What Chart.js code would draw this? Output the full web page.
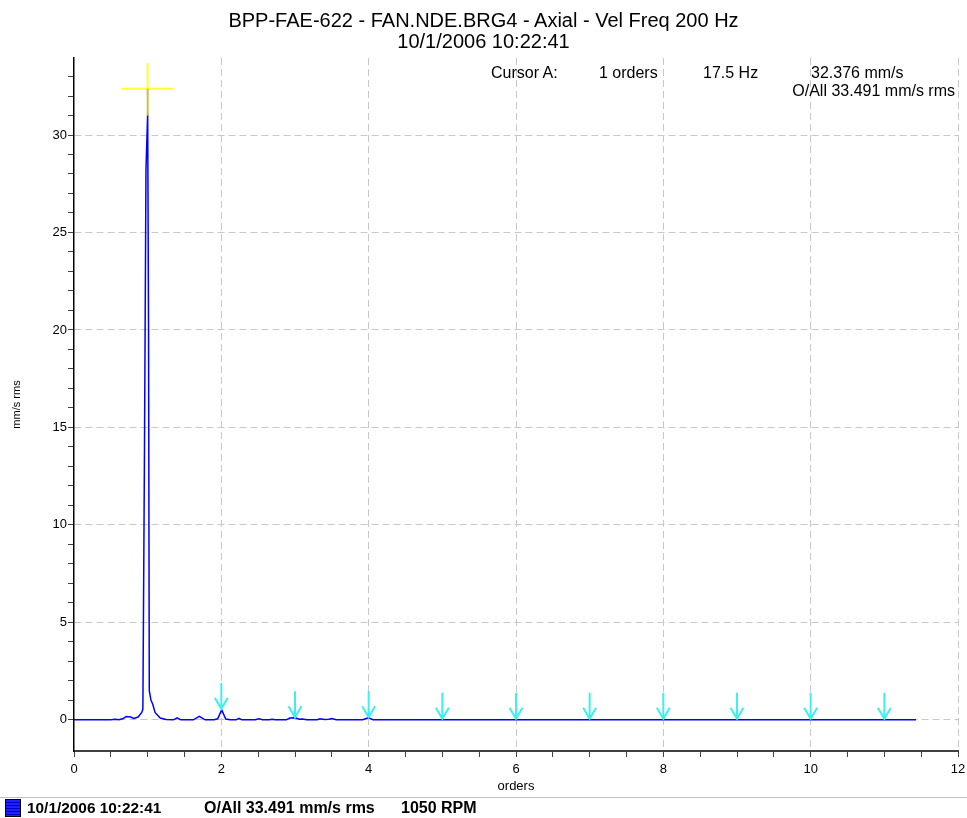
<!DOCTYPE html>
<html>
<head>
<meta charset="utf-8">
<script src="https://cdn.jsdelivr.net/npm/chart.js@4.4.1/dist/chart.umd.min.js"></script>
<style>
  body { margin: 0; background: #fff; font-family: "Liberation Sans", Arial, sans-serif; }
  #wrap { position: relative; width: 967px; height: 818px; overflow: hidden; }
  #chartBox { position: absolute; left: 0; top: 0; width: 967px; height: 818px; }
  .txt { position: absolute; white-space: nowrap; color: #000; line-height: 1; }
  .title { left: 0; width: 967px; text-align: center; font-size: 20px; }
  .cur { font-size: 16px; }
  .leg { font-size: 16px; font-weight: bold; top: 800px; }
  #sep { position: absolute; left: 0; top: 797px; width: 967px; height: 1px; background: #c0c0c0; }
  #swatch { position: absolute; left: 5px; top: 799px; width: 14px; height: 16px; border: 1px solid #000;
    background: repeating-linear-gradient(#2020ff 0 2px, #0000c0 2px 3px); }
</style>
</head>
<body>
<div id="wrap">
  <div id="chartBox"><canvas id="spectrumChart"></canvas></div>
  <div class="txt title" style="top:10px">BPP-FAE-622 - FAN.NDE.BRG4 - Axial - Vel Freq 200 Hz</div>
  <div class="txt title" style="top:31px">10/1/2006 10:22:41</div>
  <div class="txt cur" style="left:491px; top:65px">Cursor A:</div>
  <div class="txt cur" style="left:599px; top:65px">1 orders</div>
  <div class="txt cur" style="left:703px; top:65px">17.5 Hz</div>
  <div class="txt cur" style="left:811px; top:65px">32.376 mm/s</div>
  <div class="txt cur" style="right:12px; top:83px">O/All 33.491 mm/s rms</div>
  <div id="sep"></div>
  <div id="swatch"></div>
  <div class="txt leg" style="left:27px; font-size:15.4px">10/1/2006 10:22:41</div>
  <div class="txt leg" style="left:204px">O/All 33.491 mm/s rms</div>
  <div class="txt leg" style="left:401px">1050 RPM</div>
</div>
<script>
// spectrum points (orders, mm/s rms)
const orders = [0, 0.50, 0.56, 0.61, 0.66, 0.71, 0.77, 0.81, 0.87, 0.92, 0.935, 0.957, 0.977, 1.0, 1.012, 1.022,
  1.045, 1.068, 1.10, 1.17, 1.25, 1.35, 1.40, 1.45, 1.62, 1.70, 1.78, 1.90, 1.95, 2.005, 2.06, 2.12,
  2.20, 2.24, 2.28, 2.46, 2.51, 2.56, 2.65, 2.69, 2.73, 2.88, 2.93, 3.0, 3.06, 3.1, 3.16,
  3.30, 3.34, 3.40, 3.46, 3.50, 3.56, 3.92, 3.995, 4.06, 4.3, 11.43];
const amplitude = [0, 0, 0.03, 0, 0.05, 0.17, 0.14, 0.07, 0.14, 0.38, 0.55, 14.0, 28.2, 31.07, 20.0, 1.5,
  1.0, 0.81, 0.38, 0.09, 0.02, 0, 0.1, 0, 0, 0.18, 0, 0, 0.05, 0.51, 0.04, 0,
  0, 0.07, 0, 0, 0.05, 0, 0, 0.03, 0, 0, 0.09, 0.1, 0.03, 0.04, 0,
  0, 0.05, 0.02, 0.03, 0.07, 0, 0, 0.1, 0, 0, 0];

// harmonic markers (cyan arrows) and cursor A
const harmonicOrders = [2, 3, 4, 5, 6, 7, 8, 9, 10, 11];
const harmonicAmps = [0.51, 0.08, 0.08, 0, 0, 0, 0, 0, 0, 0];
const cursorOrder = 1;
const cursorAmp = 32.376;

const xMajor = [0, 2, 4, 6, 8, 10, 12];
const yMajor = [0, 5, 10, 15, 20, 25, 30];

const points = orders.map((o, i) => ({ x: o, y: amplitude[i] }));

const markers = {
  id: "markers",
  afterDatasetsDraw(chart) {
    const { ctx, scales: { x, y } } = chart;
    ctx.save();
    // harmonic arrows
    ctx.strokeStyle = "#3cf0f0";
    ctx.lineWidth = 2;
    harmonicOrders.forEach((h, i) => {
      const px = x.getPixelForValue(h);
      const tip = y.getPixelForValue(harmonicAmps[i]) - 1;
      ctx.beginPath();
      ctx.moveTo(px, tip - 26);
      ctx.lineTo(px, tip);
      ctx.moveTo(px - 6.5, tip - 11);
      ctx.lineTo(px, tip);
      ctx.lineTo(px + 6.5, tip - 11);
      ctx.stroke();
    });
    // cursor cross
    const cx = x.getPixelForValue(cursorOrder);
    const cy = y.getPixelForValue(cursorAmp);
    ctx.lineWidth = 2;
    ctx.strokeStyle = "#ffff33";
    ctx.beginPath();
    ctx.moveTo(cx - 26, cy);
    ctx.lineTo(cx + 26, cy);
    ctx.moveTo(cx, cy - 26);
    ctx.lineTo(cx, cy);
    ctx.stroke();
    ctx.strokeStyle = "#c8c040";
    ctx.beginPath();
    ctx.moveTo(cx, cy);
    ctx.lineTo(cx, cy + 27);
    ctx.stroke();
    ctx.restore();
  }
};

const font = { family: "'Liberation Sans', Arial, sans-serif", size: 13 };

new Chart(document.getElementById("spectrumChart"), {
  type: "line",
  data: {
    datasets: [{
      data: points,
      borderColor: "#0000ff",
      borderWidth: 1.5,
      pointRadius: 0,
      tension: 0,
      fill: false
    }]
  },
  options: {
    responsive: true,
    maintainAspectRatio: false,
    animation: false,
    layout: { padding: { top: 58, right: 9, bottom: 23, left: 0 } },
    plugins: { legend: { display: false }, tooltip: { enabled: false } },
    scales: {
      x: {
        type: "linear",
        min: 0,
        max: 12,
        afterFit: s => { s.height = 44; s.paddingRight = 0; },
        ticks: {
          stepSize: 0.5,
          autoSkip: false,
          maxRotation: 0,
          padding: 5,
          color: "#000",
          font,
          callback: v => (xMajor.includes(v) ? v : "")
        },
        grid: {
          color: c => (c.tick && c.tick.value !== 0 && xMajor.includes(c.tick.value) ? "#c8c8c8" : "rgba(0,0,0,0)"),
          tickColor: "#404040",
          tickLength: 6,
          lineWidth: 1
        },
        border: { display: true, color: "#404040", width: 2, dash: [7, 4] },
        title: { display: true, text: "orders", color: "#000", font: { ...font, size: 13 }, padding: { top: 0, bottom: 1 } }
      },
      y: {
        min: -1.6,
        max: 33.95,
        afterFit: s => { s.width = 74; },
        ticks: {
          stepSize: 1,
          includeBounds: false,
          padding: 1,
          color: "#000",
          font,
          callback: v => (yMajor.includes(v) ? v : "")
        },
        grid: {
          color: c => (c.tick && yMajor.includes(c.tick.value) ? "#c8c8c8" : "rgba(0,0,0,0)"),
          tickColor: c => (c.tick && c.tick.value < 0 ? "rgba(0,0,0,0)" : "#404040"),
          tickLength: 6,
          lineWidth: 1
        },
        border: { display: true, color: "#000", width: 1.5, dash: [7, 4] },
        title: { display: true, text: "mm/s rms", color: "#000", font: { ...font, size: 11 }, padding: { top: 10, bottom: 0 } }
      }
    }
  },
  plugins: [markers]
});
</script>
</body>
</html>
